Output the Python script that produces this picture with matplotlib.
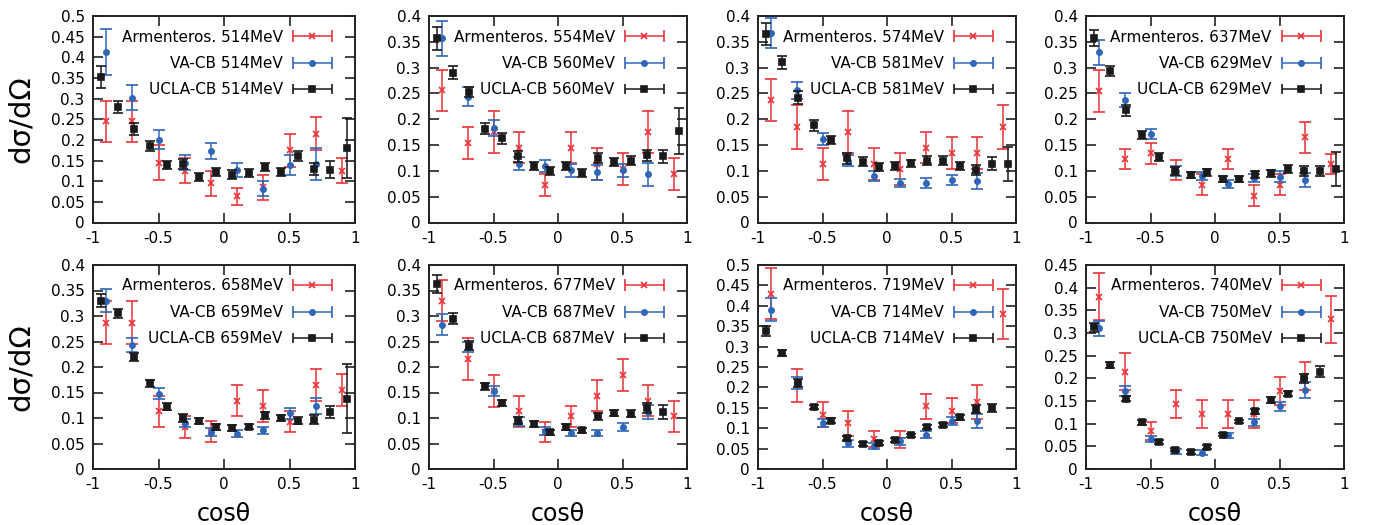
import numpy as np
import matplotlib
matplotlib.use("Agg")
import matplotlib.pyplot as plt
from matplotlib import ticker
from matplotlib.container import ErrorbarContainer
from matplotlib.legend_handler import HandlerErrorbar

plt.rcParams["font.family"] = "DejaVu Sans"
plt.rcParams["axes.unicode_minus"] = False

# bin centres (cos theta)
arm_x = [-0.9, -0.7, -0.5, -0.3, -0.1, 0.1, 0.3, 0.5, 0.7, 0.9]
va_x = [-0.9, -0.7, -0.5, -0.3, -0.1, 0.1, 0.3, 0.5, 0.7]
ucla_x = [-0.9375, -0.8125, -0.6875, -0.5625, -0.4375, -0.3125, -0.1875, -0.0625,
          0.0625, 0.1875, 0.3125, 0.4375, 0.5625, 0.6875, 0.8125, 0.9375]

arm_energy = [514, 554, 574, 637, 658, 677, 719, 740]
va_energy = [514, 560, 581, 629, 659, 687, 714, 750]
ucla_energy = [514, 560, 581, 629, 659, 687, 714, 750]
y_max = [0.5, 0.4, 0.4, 0.4, 0.4, 0.4, 0.5, 0.45]

arm_vals = [
    [0.245, 0.245, 0.145, 0.125, 0.095, 0.063, 0.085, 0.175, 0.215, 0.125],
    [0.256, 0.154, 0.175, 0.145, 0.072, 0.145, 0.113, 0.103, 0.175, 0.093],
    [0.237, 0.185, 0.113, 0.175, 0.113, 0.103, 0.145, 0.134, 0.134, 0.185],
    [0.255, 0.123, 0.134, 0.102, 0.073, 0.123, 0.052, 0.073, 0.165, 0.113],
    [0.287, 0.287, 0.113, 0.082, 0.073, 0.134, 0.123, 0.093, 0.165, 0.155],
    [0.330, 0.215, 0.153, 0.113, 0.072, 0.103, 0.144, 0.184, 0.134, 0.103],
    [0.430, 0.205, 0.133, 0.112, 0.073, 0.072, 0.154, 0.143, 0.164, 0.380],
    [0.380, 0.215, 0.083, 0.143, 0.122, 0.122, 0.122, 0.173, 0.205, 0.330],
]
arm_errs = [
    [0.05, 0.05, 0.042, 0.03, 0.03, 0.02, 0.03, 0.04, 0.04, 0.03],
    [0.04, 0.031, 0.041, 0.03, 0.021, 0.03, 0.031, 0.031, 0.041, 0.031],
    [0.041, 0.042, 0.031, 0.041, 0.031, 0.031, 0.03, 0.031, 0.031, 0.042],
    [0.04, 0.02, 0.02, 0.02, 0.02, 0.02, 0.02, 0.02, 0.03, 0.02],
    [0.042, 0.042, 0.031, 0.021, 0.021, 0.031, 0.031, 0.021, 0.031, 0.031],
    [0.04, 0.041, 0.031, 0.03, 0.02, 0.02, 0.031, 0.031, 0.031, 0.031],
    [0.062, 0.041, 0.03, 0.031, 0.02, 0.02, 0.031, 0.031, 0.041, 0.062],
    [0.052, 0.04, 0.02, 0.031, 0.031, 0.031, 0.031, 0.031, 0.031, 0.052],
]

va_vals = [
    [0.413, 0.302, 0.2, 0.145, 0.173, 0.127, 0.082, 0.14, 0.142],
    [0.357, 0.244, 0.183, 0.114, 0.11, 0.101, 0.097, 0.101, 0.093],
    [0.367, 0.256, 0.162, 0.12, 0.09, 0.077, 0.077, 0.082, 0.08],
    [0.33, 0.237, 0.171, 0.1, 0.09, 0.075, 0.086, 0.089, 0.082],
    [0.33, 0.243, 0.148, 0.09, 0.072, 0.069, 0.076, 0.109, 0.124],
    [0.283, 0.24, 0.153, 0.093, 0.075, 0.07, 0.07, 0.083, 0.112],
    [0.39, 0.21, 0.113, 0.063, 0.057, 0.068, 0.084, 0.118, 0.118],
    [0.31, 0.172, 0.066, 0.039, 0.036, 0.074, 0.103, 0.138, 0.174],
]
va_errs = [
    [0.055, 0.03, 0.023, 0.018, 0.02, 0.018, 0.019, 0.024, 0.038],
    [0.034, 0.018, 0.015, 0.012, 0.012, 0.012, 0.015, 0.013, 0.022],
    [0.029, 0.016, 0.012, 0.01, 0.01, 0.008, 0.01, 0.01, 0.015],
    [0.024, 0.013, 0.01, 0.01, 0.008, 0.008, 0.008, 0.01, 0.013],
    [0.023, 0.014, 0.01, 0.008, 0.008, 0.007, 0.007, 0.01, 0.016],
    [0.02, 0.01, 0.01, 0.008, 0.008, 0.006, 0.006, 0.008, 0.013],
    [0.028, 0.015, 0.01, 0.008, 0.007, 0.009, 0.008, 0.01, 0.018],
    [0.017, 0.01, 0.007, 0.005, 0.005, 0.005, 0.008, 0.01, 0.018],
]

ucla_vals = [
    [0.352, 0.28, 0.226, 0.186, 0.14, 0.142, 0.11, 0.122, 0.116, 0.12, 0.134, 0.122, 0.16, 0.13, 0.128, 0.18],
    [0.357, 0.29, 0.253, 0.182, 0.163, 0.128, 0.11, 0.1, 0.11, 0.096, 0.125, 0.117, 0.12, 0.13, 0.128, 0.177],
    [0.365, 0.31, 0.242, 0.188, 0.16, 0.124, 0.118, 0.108, 0.11, 0.115, 0.12, 0.12, 0.11, 0.102, 0.114, 0.114],
    [0.357, 0.294, 0.217, 0.17, 0.127, 0.1, 0.092, 0.097, 0.085, 0.085, 0.093, 0.095, 0.104, 0.1, 0.1, 0.104],
    [0.33, 0.305, 0.22, 0.168, 0.122, 0.1, 0.094, 0.083, 0.08, 0.083, 0.105, 0.1, 0.095, 0.097, 0.112, 0.138],
    [0.363, 0.295, 0.242, 0.162, 0.13, 0.095, 0.088, 0.072, 0.083, 0.076, 0.103, 0.109, 0.108, 0.12, 0.112],
    [0.338, 0.285, 0.21, 0.152, 0.118, 0.075, 0.062, 0.064, 0.072, 0.083, 0.102, 0.108, 0.127, 0.148, 0.15],
    [0.313, 0.23, 0.155, 0.103, 0.06, 0.043, 0.037, 0.049, 0.076, 0.105, 0.127, 0.152, 0.166, 0.2, 0.215],
]
ucla_errs = [
    [0.027, 0.015, 0.015, 0.012, 0.01, 0.012, 0.01, 0.01, 0.01, 0.01, 0.01, 0.01, 0.012, 0.015, 0.02, 0.073],
    [0.022, 0.013, 0.01, 0.01, 0.01, 0.01, 0.008, 0.008, 0.008, 0.007, 0.01, 0.008, 0.008, 0.01, 0.013, 0.045],
    [0.022, 0.013, 0.012, 0.01, 0.008, 0.01, 0.008, 0.008, 0.008, 0.007, 0.008, 0.008, 0.008, 0.01, 0.013, 0.033],
    [0.015, 0.01, 0.01, 0.008, 0.008, 0.008, 0.006, 0.006, 0.006, 0.006, 0.006, 0.007, 0.008, 0.01, 0.01, 0.033],
    [0.013, 0.008, 0.008, 0.007, 0.007, 0.007, 0.006, 0.006, 0.006, 0.005, 0.007, 0.006, 0.006, 0.008, 0.012, 0.068],
    [0.017, 0.01, 0.009, 0.007, 0.006, 0.007, 0.006, 0.005, 0.006, 0.005, 0.007, 0.006, 0.007, 0.01, 0.014],
    [0.013, 0.007, 0.01, 0.006, 0.006, 0.006, 0.005, 0.005, 0.005, 0.004, 0.005, 0.005, 0.006, 0.01, 0.01],
    [0.01, 0.007, 0.006, 0.005, 0.004, 0.004, 0.004, 0.004, 0.004, 0.004, 0.005, 0.006, 0.006, 0.01, 0.013],
]

red, blue, black = "#ec3237", "#2f66b8", "#1a1a1a"
W, H = 1378, 525

fig = plt.figure(figsize=(W / 100, H / 100), dpi=100)
lefts = [93, 429, 758, 1086]
widths = [262, 258, 258, 258]
rows = [(16, 222.5), (265, 469)]

for i in range(8):
    row, col = divmod(i, 4)
    top, bot = rows[row]
    ax = fig.add_axes([lefts[col] / W, 1 - bot / H, widths[col] / W, (bot - top) / H])
    n = len(ucla_vals[i])

    styles = [
        (arm_x, arm_vals[i], arm_errs[i], red, "x", 4.5, 4.2),
        (va_x, va_vals[i], va_errs[i], blue, "o", 3.8, 4.2),
        (ucla_x[:n], ucla_vals[i], ucla_errs[i], black, "s", 4.5, 3.6),
    ]
    handles = []
    for k, (x, y, e, c, m, ms, cs) in enumerate(styles):
        ax.errorbar(x, y, yerr=e, fmt=m, color=c, ms=ms, mew=1.2, elinewidth=1.1,
                    capsize=cs, capthick=1.1, zorder=3 + k)
        # horizontal sample for the legend, gnuplot style
        handles.append(ax.errorbar([np.nan], [np.nan], xerr=[1.0], fmt=m, color=c, ms=ms,
                                   mew=1.2, elinewidth=1.1, capsize=cs, capthick=1.1))
    labels = [f"Armenteros. {arm_energy[i]}MeV", f"VA-CB {va_energy[i]}MeV",
              f"UCLA-CB {ucla_energy[i]}MeV"]

    ax.set_xlim(-1, 1)
    ax.set_ylim(0, y_max[i])
    ax.set_xticks([-1, -0.5, 0, 0.5, 1])
    ax.set_yticks(np.arange(0, y_max[i] + 0.001, 0.05))
    ax.xaxis.set_major_formatter(ticker.FormatStrFormatter("%g"))
    ax.yaxis.set_major_formatter(ticker.FormatStrFormatter("%g"))
    ax.tick_params(direction="in", top=True, right=True, length=7, width=1.2,
                   labelsize=11, pad=6, color="#222222")
    for s in ax.spines.values():
        s.set_linewidth(1.4)
        s.set_color("#222222")

    ax_w = widths[col]
    ax_h = bot - top
    ax.legend(handles, labels, loc="upper right",
              bbox_to_anchor=(1 - 22.7 / ax_w, 1 - 13.5 / ax_h),
              frameon=False, markerfirst=False, fontsize=11, handlelength=2.6,
              handletextpad=0.65, labelspacing=0.75, borderpad=0, borderaxespad=0,
              numpoints=1, handler_map={ErrorbarContainer: HandlerErrorbar(xerr_size=1.3)})

    if col == 0:
        ax.set_ylabel("dσ/dΩ", fontsize=21)
        ax.yaxis.set_label_coords(-(93 - 35) / ax_w, 0.5)
    if row == 1:
        ax.set_xlabel("cosθ", fontsize=17)
        ax.xaxis.set_label_coords(0.5, -33 / ax_h)

fig.savefig("out.png", dpi=100)
